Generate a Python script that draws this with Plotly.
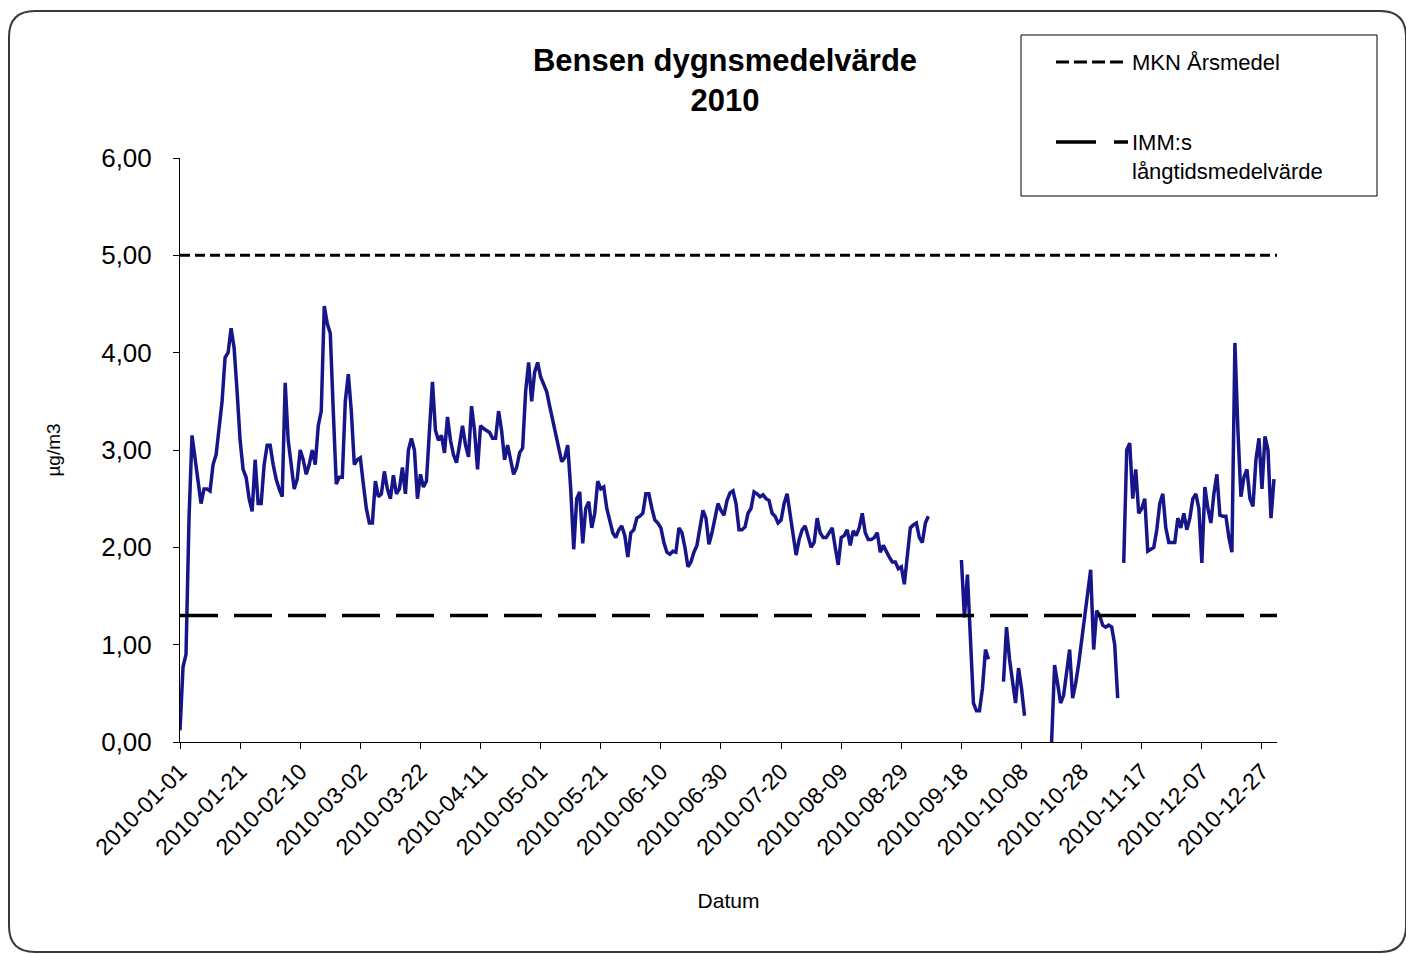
import pandas as pd
import plotly.graph_objects as go

# Daily benzene averages 2010 (µg/m3), one list per month, None = missing day
jan = [0.12, 0.77, 0.90, 2.30, 3.15, 2.90, 2.65, 2.45, 2.60, 2.60,
       2.58, 2.85, 2.95, 3.20, 3.50, 3.95, 4.00, 4.25, 4.05, 3.60,
       3.10, 2.80, 2.72, 2.50, 2.37, 2.90, 2.45, 2.45, 2.85, 3.05, 3.05]
feb = [2.85, 2.70, 2.60, 2.52, 3.69, 3.10, 2.85, 2.60, 2.70, 3.00,
       2.90, 2.75, 2.85, 3.00, 2.85, 3.25, 3.40, 4.48, 4.30, 4.20,
       3.40, 2.65, 2.72, 2.72, 3.50, 3.78, 3.40, 2.85]
mar = [2.90, 2.92, 2.65, 2.40, 2.25, 2.25, 2.68, 2.52, 2.55, 2.78,
       2.60, 2.50, 2.74, 2.55, 2.60, 2.82, 2.55, 3.00, 3.12, 3.00,
       2.50, 2.75, 2.62, 2.68, 3.20, 3.70, 3.20, 3.10, 3.15, 2.97, 3.34]
apr = [3.10, 2.95, 2.87, 3.05, 3.25, 3.05, 2.93, 3.45, 3.20, 2.80,
       3.25, 3.22, 3.20, 3.18, 3.12, 3.12, 3.40, 3.20, 2.90, 3.05,
       2.90, 2.75, 2.82, 2.97, 3.02, 3.60, 3.90, 3.50, 3.80, 3.90]
may = [3.75, 3.68, 3.60, 3.45, 3.30, 3.18, 3.00, 2.88, 2.92, 3.05,
       2.60, 1.98, 2.50, 2.57, 2.04, 2.40, 2.47, 2.20, 2.35, 2.68,
       2.60, 2.62, 2.40, 2.26, 2.15, 2.10, 2.18, 2.22, 2.12, 1.90, 2.15]
jun = [2.18, 2.30, 2.32, 2.35, 2.55, 2.55, 2.40, 2.28, 2.25, 2.20,
       2.05, 1.95, 1.93, 1.96, 1.95, 2.20, 2.15, 2.00, 1.80, 1.85,
       1.95, 2.02, 2.20, 2.38, 2.30, 2.03, 2.15, 2.30, 2.45, 2.38]
jul = [2.33, 2.48, 2.56, 2.58, 2.45, 2.18, 2.18, 2.21, 2.35, 2.40,
       2.57, 2.55, 2.52, 2.54, 2.50, 2.48, 2.35, 2.32, 2.25, 2.28,
       2.45, 2.55, 2.35, 2.10, 1.92, 2.08, 2.18, 2.22, 2.10, 2.00, 2.05]
aug = [2.30, 2.15, 2.10, 2.10, 2.15, 2.20, 2.00, 1.82, 2.10, 2.12,
       2.18, 2.02, 2.17, 2.12, 2.20, 2.35, 2.15, 2.08, 2.08, 2.10,
       2.15, 1.95, 2.02, 1.95, 1.90, 1.85, 1.85, 1.78, 1.80, 1.62, 1.95]
sep = [2.20, 2.23, 2.25, 2.10, 2.05, 2.25, 2.32, None, None, None,
       None, None, None, None, None, None, None, 1.87, 1.28, 1.72,
       1.00, 0.40, 0.32, 0.32, 0.55, 0.95, 0.85, None, None, None]
okt = [None, 0.62, 1.18, 0.85, 0.60, 0.40, 0.76, 0.55, 0.27, None,
       None, None, None, None, None, None, None, 0.00, 0.79, 0.60,
       0.40, 0.48, 0.70, 0.95, 0.45, 0.60, 0.80, 1.05, 1.28, 1.55, 1.77]
nov = [0.95, 1.35, 1.30, 1.20, 1.18, 1.20, 1.18, 1.00, 0.45, None,
       1.84, 3.00, 3.07, 2.50, 2.80, 2.35, 2.40, 2.50, 1.96, 1.98,
       2.00, 2.18, 2.45, 2.55, 2.20, 2.05, 2.05, 2.05, 2.30, 2.20]
dec = [2.35, 2.18, 2.30, 2.50, 2.55, 2.40, 1.84, 2.62, 2.40, 2.25,
       2.55, 2.75, 2.33, 2.32, 2.32, 2.10, 1.95, 4.10, 3.20, 2.52,
       2.72, 2.80, 2.50, 2.42, 2.90, 3.12, 2.60, 3.14, 3.00, 2.30, 2.70]

values = jan + feb + mar + apr + may + jun + jul + aug + sep + okt + nov + dec
dates = pd.date_range("2010-01-01", periods=len(values), freq="D")

mkn_level = 5.0   # MKN Årsmedel
imm_level = 1.3   # IMM:s långtidsmedelvärde
ref_x = ["2010-01-01", "2011-01-01"]

# the page puts the figure 8px in from the top-left corner;
# positions below are in screenshot pixels and shifted by OFF
OFF = 8
W, H = 1414 - OFF, 954 - OFF
L, T = 180 - OFF, 158 - OFF
R, B = W - (1277 - OFF), H - (742 - OFF)
pw, ph = W - L - R, H - T - B


def px(x):
    return (x - OFF - L) / pw


def py(y):
    return (H - B - (y - OFF)) / ph


fig = go.Figure()

fig.add_trace(go.Scatter(
    x=dates, y=values, mode="lines", showlegend=False,
    line=dict(color="#16168a", width=3.5),
))
fig.add_trace(go.Scatter(
    x=ref_x, y=[mkn_level, mkn_level], mode="lines", showlegend=False,
    line=dict(color="black", width=3, dash="10px,5px"),
))
fig.add_trace(go.Scatter(
    x=ref_x, y=[imm_level, imm_level], mode="lines", showlegend=False,
    line=dict(color="black", width=3.5, dash="38px,16px"),
))

# rounded chart frame
r = 26
x0, x1, y0, y1 = 9, 1406, 11, 952
frame = (f"M{px(x0 + r)},{py(y0)} L{px(x1 - r)},{py(y0)} "
         f"Q{px(x1)},{py(y0)} {px(x1)},{py(y0 + r)} "
         f"L{px(x1)},{py(y1 - r)} Q{px(x1)},{py(y1)} {px(x1 - r)},{py(y1)} "
         f"L{px(x0 + r)},{py(y1)} Q{px(x0)},{py(y1)} {px(x0)},{py(y1 - r)} "
         f"L{px(x0)},{py(y0 + r)} Q{px(x0)},{py(y0)} {px(x0 + r)},{py(y0)} Z")
fig.add_shape(type="path", path=frame, xref="paper", yref="paper",
              line=dict(color="#3a3a3a", width=2), layer="below")

# legend box drawn by hand (Excel style, long line samples)
fig.add_shape(type="rect", xref="paper", yref="paper",
              x0=px(1021), x1=px(1377), y0=py(196), y1=py(35),
              line=dict(color="black", width=1), fillcolor="white")
fig.add_shape(type="line", xref="paper", yref="paper",
              x0=px(1056), x1=px(1128), y0=py(62), y1=py(62),
              line=dict(color="black", width=3, dash="13px,5px"))
fig.add_shape(type="line", xref="paper", yref="paper",
              x0=px(1056), x1=px(1128), y0=py(142), y1=py(142),
              line=dict(color="black", width=3.5, dash="40px,18px"))
fig.add_annotation(xref="paper", yref="paper", x=px(1130), y=py(62),
                   xanchor="left", yanchor="middle", showarrow=False,
                   text="MKN Årsmedel", font=dict(size=22))
fig.add_annotation(xref="paper", yref="paper", x=px(1130), y=py(157),
                   xanchor="left", yanchor="middle", showarrow=False,
                   align="left",
                   text="IMM:s<br>långtidsmedelvärde", font=dict(size=22))

fig.update_layout(
    width=W, height=H,
    margin=dict(l=L, r=R, t=T, b=B),
    paper_bgcolor="white", plot_bgcolor="white",
    separators=", ",
    showlegend=False,
    font=dict(family="Liberation Sans, Arial, sans-serif", color="black"),
    title=dict(
        text="<b>Bensen dygnsmedelvärde<br>2010</b>",
        font=dict(size=31, color="black"),
        x=px(725), xref="paper", xanchor="center",
        y=1 - 63 / H, yanchor="top",
    ),
    xaxis=dict(
        type="date", range=ref_x,
        tickmode="linear", tick0="2010-01-01", dtick=20 * 86400000,
        tickformat="%Y-%m-%d", tickangle=-45,
        tickfont=dict(size=23),
        ticks="outside", ticklen=6, tickcolor="black",
        showline=True, linecolor="black", linewidth=1,
        showgrid=False, zeroline=False,
        title=dict(text="Datum", font=dict(size=21), standoff=34),
    ),
    yaxis=dict(
        range=[0, 6], dtick=1, tickformat=".2f",
        tickfont=dict(size=26),
        ticks="outside", ticklen=6, tickcolor="black",
        ticklabelstandoff=16,
        showline=True, linecolor="black", linewidth=1,
        showgrid=False, zeroline=False,
        title=dict(text="µg/m3", font=dict(size=19), standoff=35),
    ),
)

fig.write_html("out.html")
